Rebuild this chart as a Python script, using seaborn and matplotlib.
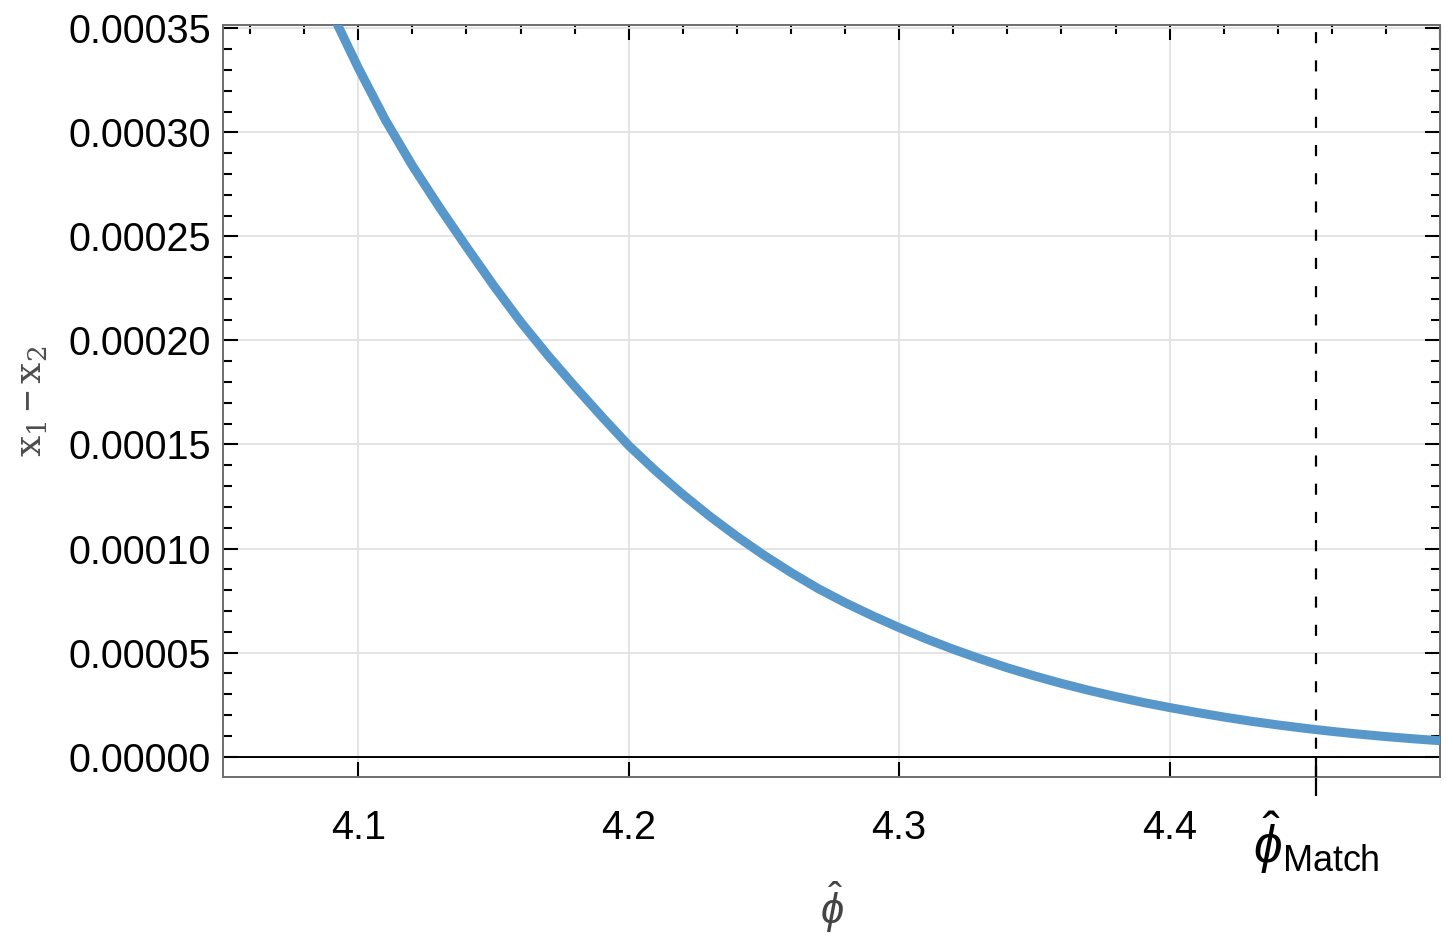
import numpy as np
import pandas as pd
import matplotlib
matplotlib.use('Agg')
import matplotlib.pyplot as plt
import seaborn as sns
from matplotlib.ticker import MultipleLocator, FixedLocator, FuncFormatter

# values
phi_hat = [4.09, 4.10, 4.11, 4.12, 4.13, 4.14, 4.15, 4.16, 4.17, 4.18,
           4.19, 4.20, 4.21, 4.22, 4.23, 4.24, 4.25, 4.26, 4.27, 4.28,
           4.29, 4.30, 4.31, 4.32, 4.33, 4.34, 4.35, 4.36, 4.37, 4.38,
           4.39, 4.40, 4.41, 4.42, 4.43, 4.44, 4.45, 4.46, 4.47, 4.48,
           4.49, 4.50]
x1_minus_x2 = [3.58e-4, 3.31e-4, 3.06e-4, 2.84e-4, 2.64e-4, 2.45e-4, 2.265e-4, 2.09e-4, 1.93e-4, 1.78e-4,
               1.635e-4, 1.495e-4, 1.373e-4, 1.260e-4, 1.155e-4, 1.058e-4, 0.968e-4, 0.885e-4, 0.808e-4, 0.740e-4,
               0.678e-4, 0.620e-4, 0.566e-4, 0.516e-4, 0.470e-4, 0.427e-4, 0.388e-4, 0.352e-4, 0.319e-4, 0.289e-4,
               0.261e-4, 0.236e-4, 0.2125e-4, 0.1905e-4, 0.1705e-4, 0.1525e-4, 0.1362e-4, 0.1215e-4, 0.1083e-4, 0.0965e-4,
               0.0859e-4, 0.0765e-4]

phi_match = 4.4542
x_ticks = [4.1, 4.2, 4.3, 4.4, phi_match, 4.5]
x_tick_labels = ['4.1', '4.2', '4.3', '4.4', r'$\hat{\phi}_{\mathrm{Match}}$', '']

sns.set_theme(style='white')
plt.rcParams['font.family'] = ['Liberation Sans', 'DejaVu Sans']
plt.rcParams['mathtext.fontset'] = 'custom'
plt.rcParams['mathtext.rm'] = 'Liberation Sans'
plt.rcParams['mathtext.it'] = 'Liberation Sans:italic'
plt.rcParams['mathtext.tt'] = 'DejaVu Serif'

fig = plt.figure(figsize=(14.54, 9.42), dpi=100)
ax = fig.add_axes([0.1534, 0.1752, 0.8370, 0.7983])

df = pd.DataFrame({'phi': phi_hat, 'diff': x1_minus_x2})
sns.lineplot(data=df, x='phi', y='diff', color='#5897C9', linewidth=6.5,
             sort=False, ax=ax, solid_capstyle='butt', solid_joinstyle='round', zorder=3)

# axis at zero and the matching point
ax.axhline(0, color='black', lw=1.4, zorder=2)
ax.axvline(phi_match, color='black', lw=1.6, dashes=(5.0, 7.7), zorder=4)

ax.set_xlim(4.05, 4.5)
ax.set_ylim(-0.00000976, 0.0003516)

ax.xaxis.set_major_locator(FixedLocator(x_ticks))
ax.set_xticklabels(x_tick_labels)
ax.xaxis.set_minor_locator(MultipleLocator(0.02))
ax.yaxis.set_major_locator(MultipleLocator(5e-5))
ax.yaxis.set_minor_locator(MultipleLocator(1e-5))
ax.yaxis.set_major_formatter(FuncFormatter(lambda v, p: f'{abs(v):.5f}'))

ax.set_axisbelow(True)
ax.grid(True, which='major', color='#E2E2E2', lw=1.3)

ax.tick_params(which='both', direction='in', top=True, right=True, left=True, bottom=True,
               color='black')
ax.tick_params(which='major', length=10.5, width=1.5, labelsize=28.5, labelcolor='black')
ax.tick_params(which='minor', length=6.3, width=1.5)
ax.tick_params(axis='x', which='minor', bottom=False)
ax.tick_params(axis='x', which='major', pad=23)
ax.tick_params(axis='y', which='major', pad=8.5)

for s in ax.spines.values():
    s.set_color('#6E6E6E')
    s.set_linewidth(1.4)

ticks = ax.xaxis.get_major_ticks()
t = ticks[4]
t.tick1line.set_marker('|')
t.tick1line.set_markersize(27)
t.tick1line.set_markeredgewidth(1.6)
t.tick2line.set_visible(False)
t.gridline.set_visible(False)
t.label1.set_fontsize(37)
ticks[5].tick1line.set_visible(False)
ticks[5].gridline.set_visible(False)

ax.set_xlabel(r'$\hat{\phi}$', fontsize=30, color='#444444')
ax.xaxis.set_label_coords(0.5, -0.137)
ax.set_ylabel(r'$\mathtt{x}_{\mathtt{1}}-\mathtt{x}_{\mathtt{2}}$', fontsize=27, color='#4D4D4D')
ax.yaxis.set_label_coords(-0.142, 0.5)

fig.savefig('out.png', dpi=100)
